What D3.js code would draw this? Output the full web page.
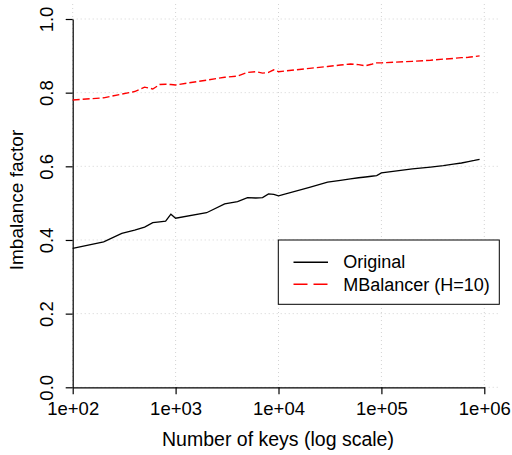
<!DOCTYPE html>
<html>
<head>
<meta charset="utf-8">
<script src="https://cdn.jsdelivr.net/npm/d3@7"></script>
<style>
  body { margin:0; background:#fff; }
  svg { font-family: "Liberation Sans", Arial, Helvetica, sans-serif; }
  .axis text { font-size:18.5px; fill:#000; }
  .axis path, .axis line { stroke:#000; stroke-width:1.2; }
</style>
</head>
<body>
<div id="chart"></div>
<script>
// number of keys (100..900000)
const keys = [100,200,300,400,500,600,700,800,900,
  1000,2000,3000,4000,5000,6000,7000,8000,9000,
  10000,20000,30000,40000,50000,60000,70000,80000,90000,
  100000,200000,300000,400000,500000,600000,700000,800000,900000];

const original = [0.377,0.395,0.418,0.427,0.435,0.447,0.449,0.451,0.470,
  0.459,0.474,0.498,0.504,0.515,0.514,0.515,0.525,0.524,
  0.520,0.543,0.557,0.562,0.566,0.569,0.571,0.573,0.575,
  0.582,0.593,0.598,0.602,0.606,0.609,0.613,0.616,0.619];

const mbalancer = [0.780,0.786,0.796,0.803,0.815,0.810,0.822,0.823,0.822,
  0.821,0.834,0.842,0.845,0.855,0.857,0.853,0.855,0.862,
  0.857,0.866,0.871,0.875,0.878,0.876,0.873,0.877,0.881,
  0.881,0.885,0.888,0.891,0.893,0.895,0.896,0.898,0.900];

const xTicks = [1e2,1e3,1e4,1e5,1e6];
const yTicks = [0,0.2,0.4,0.6,0.8,1.0];
const seriesNames = ["Original","MBalancer (H=10)"];

const w = 512, h = 455;
// plot box (grid area) is a bit wider/taller than the axis range, like R
const box = { left:72.7, right:499, top:4, bottom:387.3 };

const svg = d3.select("#chart").append("svg").attr("width", w).attr("height", h);

const x = d3.scaleLog().domain([1e2, 1e6]).range([72.7, 484.3]);
const y = d3.scaleLinear().domain([0, 1]).range([387.3, 19]);

// dotted grid
const grid = svg.append("g").attr("stroke","#d3d3d3").attr("stroke-dasharray","1,3").attr("stroke-width",1);
grid.selectAll(".gx").data(xTicks).enter().append("line")
  .attr("x1", d=>x(d)).attr("x2", d=>x(d)).attr("y1", box.top).attr("y2", box.bottom);
grid.selectAll(".gy").data(yTicks).enter().append("line")
  .attr("x1", box.left).attr("x2", box.right).attr("y1", d=>y(d)).attr("y2", d=>y(d));

// axes
const gx = svg.append("g").attr("class","axis").attr("transform", `translate(0,${box.bottom})`)
  .call(d3.axisBottom(x).tickValues(xTicks).tickSize(7).tickSizeOuter(0)
    .tickFormat(d => "1e+0" + Math.round(Math.log10(d))));
gx.selectAll("text").attr("y", 27.7).attr("dy", 0);

const gy = svg.append("g").attr("class","axis").attr("transform", `translate(${box.left},0)`)
  .call(d3.axisLeft(y).tickValues(yTicks).tickSize(7).tickSizeOuter(0).tickFormat(d3.format(".1f")));
gy.selectAll("text")
  .attr("x", 0).attr("dy", 0)
  .attr("text-anchor","middle")
  .attr("transform","translate(-19.4,0) rotate(-90)");

// axis titles
svg.append("text").attr("x", 278).attr("y", 446).attr("text-anchor","middle")
  .attr("font-size", 19.5).text("Number of keys (log scale)");
svg.append("text").attr("transform","translate(23.3,200) rotate(-90)").attr("text-anchor","middle")
  .attr("font-size", 19).text("Imbalance factor");

// lines
const line = vals => d3.line().x((d,i)=>x(keys[i])).y(d=>y(d))(vals);
svg.append("path").attr("d", line(original))
  .attr("fill","none").attr("stroke","#000").attr("stroke-width",1.3);
svg.append("path").attr("d", line(mbalancer))
  .attr("fill","none").attr("stroke","#ff0000").attr("stroke-width",1.4)
  .attr("stroke-dasharray","7,3");

// legend
const lg = svg.append("g");
lg.append("rect").attr("x",278.3).attr("y",240).attr("width",221).attr("height",64.3)
  .attr("fill","#fff").attr("stroke","#000").attr("stroke-width",1);
const legRows = [
  { name: seriesNames[0], color:"#000", dash:null, ly:262.3, ty:268.3 },
  { name: seriesNames[1], color:"#ff0000", dash:"14,6", ly:284.3, ty:290.5 }
];
legRows.forEach(r => {
  lg.append("line").attr("x1",293.5).attr("x2",328).attr("y1",r.ly).attr("y2",r.ly)
    .attr("stroke",r.color).attr("stroke-width",1.6).attr("stroke-dasharray",r.dash);
  lg.append("text").attr("x",343.3).attr("y",r.ty).attr("font-size",18).text(r.name);
});
</script>
</body>
</html>
